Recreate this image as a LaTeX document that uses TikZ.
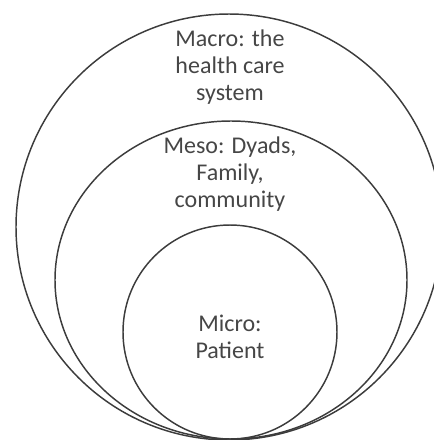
\documentclass[tikz,border=0pt]{standalone}
\usepackage{fontspec}
\setmainfont{Carlito}
\definecolor{ringgray}{RGB}{60,60,60}
\definecolor{textgray}{RGB}{70,70,70}

\tikzset{every picture/.style={line width=0.75pt}}
\tikzset{
  ring/.style={draw=ringgray, line width=1.1pt},
  levellabel/.style={align=center, text=textgray, inner sep=0.75pt,
    font=\fontsize{18}{20}\selectfont}
}

\begin{document}
\begin{tikzpicture}[x=0.75pt,y=0.75pt,yscale=-1,xscale=1]
\useasboundingbox (0,0) rectangle (433,440);
% Macro level
\draw [ring] (229,227) circle [radius=213];
% Meso level
\draw [ring] (231,280) ellipse [x radius=176, y radius=159];
% Micro level
\draw [ring] (230,332) circle [radius=107];
% Text Nodes
\node [levellabel] (macro) at (230,67) {Macro: the\\health care\\system};
\node [levellabel] (meso) at (230,174) {Meso: Dyads,\\Family,\\community};
\node [levellabel] (micro) at (230,337) {Micro:\\Patient};
\end{tikzpicture}
\end{document}
